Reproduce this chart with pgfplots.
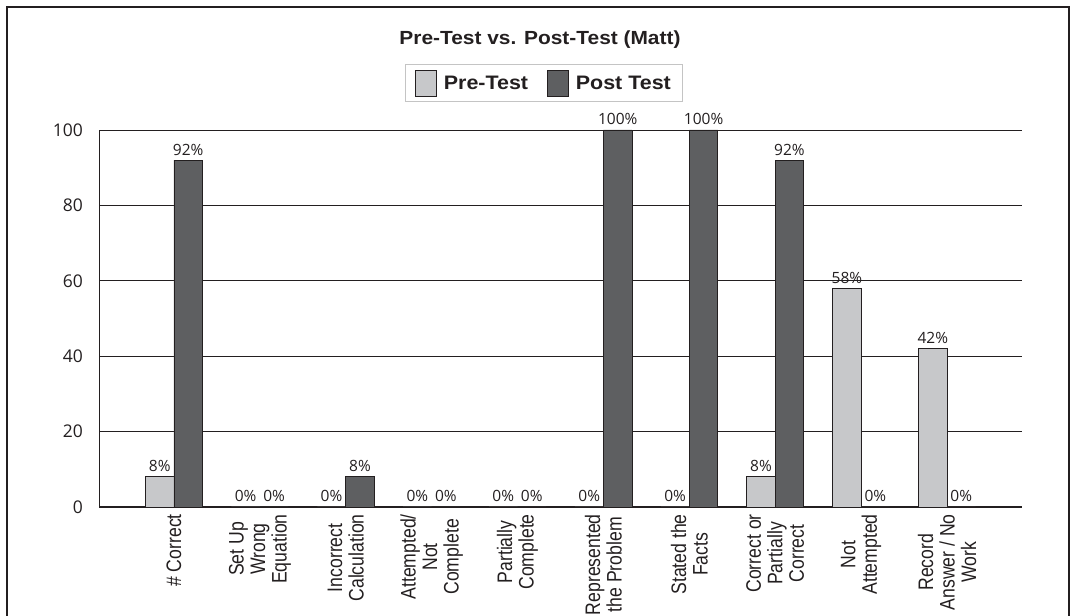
\documentclass[border=0pt]{standalone}
\usepackage{fontspec}
\usepackage{pgfplots}
\pgfplotsset{compat=1.18}
\setmainfont{Open Sans}
\newfontfamily\headfont{Liberation Sans Bold}[FakeStretch=1.1]
\newfontfamily\catfont{Liberation Sans}[FakeStretch=0.84]
\definecolor{preFill}{HTML}{C7C8CA}
\definecolor{postFill}{HTML}{5E5F61}
\definecolor{ink}{HTML}{231F20}
\definecolor{legBorder}{HTML}{C4C4C4}

\begin{document}
\begin{tikzpicture}[x=1bp,y=1bp]
% outer frame (open at the bottom edge)
\draw[ink, line width=2.6bp] (7,-40) -- (7,609) -- (1069,609) -- (1069,-40);
% title
\node[font=\fontsize{19bp}{22bp}\headfont, text=ink, anchor=base, inner sep=0pt] at (540,571) {Pre-Test vs. Post-Test (Matt)};
\begin{axis}[
  at={(99bp,109bp)}, anchor=south west,
  scale only axis, width=923bp, height=377bp,
  xmin=-0.873, xmax=9.873,
  ymin=0, ymax=100,
  ytick={0,20,40,60,80,100},
  xtick={0,1,2,3,4,5,6,7,8,9},
  xticklabels={{\# Correct},{Set Up\\Wrong\\Equation},{Incorrect\\Calculation},{Attempted/\\Not\\Complete},{Partially\\Complete},{Represented\\the Problem},{Stated the\\Facts},{Correct or\\Partially\\Correct},{Not\\Attempted},{Record\\Answer / No\\Work}},
  major tick length=0pt,
  axis x line*=bottom, axis y line*=left,
  x axis line style={ink, line width=1.3bp},
  y axis line style={ink, line width=0.8bp},
  ymajorgrids, major grid style={ink, line width=0.9bp},
  /pgf/number format/assume math mode=true,
  yticklabel style={font=\fontsize{17.5bp}{20bp}\selectfont, text=ink, anchor=east, inner sep=0pt, xshift=-16bp},
  xticklabel style={rotate=90, anchor=east, align=center, font=\fontsize{21bp}{21.5bp}\catfont, text=ink, inner xsep=7bp, inner ysep=0pt},
  ybar=0pt, bar width=28.5bp,
  nodes near coords={\pgfmathprintnumber{\pgfplotspointmeta}\%},
  nodes near coords style={font=\fontsize{15.5bp}{17bp}\selectfont, text=ink, inner sep=0pt, anchor=south, yshift=4.5bp},
  legend columns=2,
  legend image code/.code={\draw[#1, draw=ink, line width=0.8bp] (0bp,-12bp) rectangle (21bp,14bp);
    \path (26bp,0bp);},
  legend style={at={(0.4821,1.1247)}, anchor=center, draw=legBorder, line width=1bp, fill=white,
    font=\fontsize{19.5bp}{22bp}\headfont, text=ink, inner xsep=10bp, inner ysep=5bp,
    /tikz/every even column/.append style={column sep=17bp}},
]
\addplot[fill=preFill, draw=ink, line width=0.7bp] coordinates {
  (0,8) (1,0) (2,0) (3,0) (4,0) (5,0) (6,0) (7,8) (8,58) (9,42)};
\addplot[fill=postFill, draw=ink, line width=0.7bp] coordinates {
  (0,92) (1,0) (2,8) (3,0) (4,0) (5,100) (6,100) (7,92) (8,0) (9,0)};
\legend{Pre-Test, Post Test}
\end{axis}
\pgfresetboundingbox
\useasboundingbox (0,0) rectangle (1073,616);
\end{tikzpicture}
\end{document}
